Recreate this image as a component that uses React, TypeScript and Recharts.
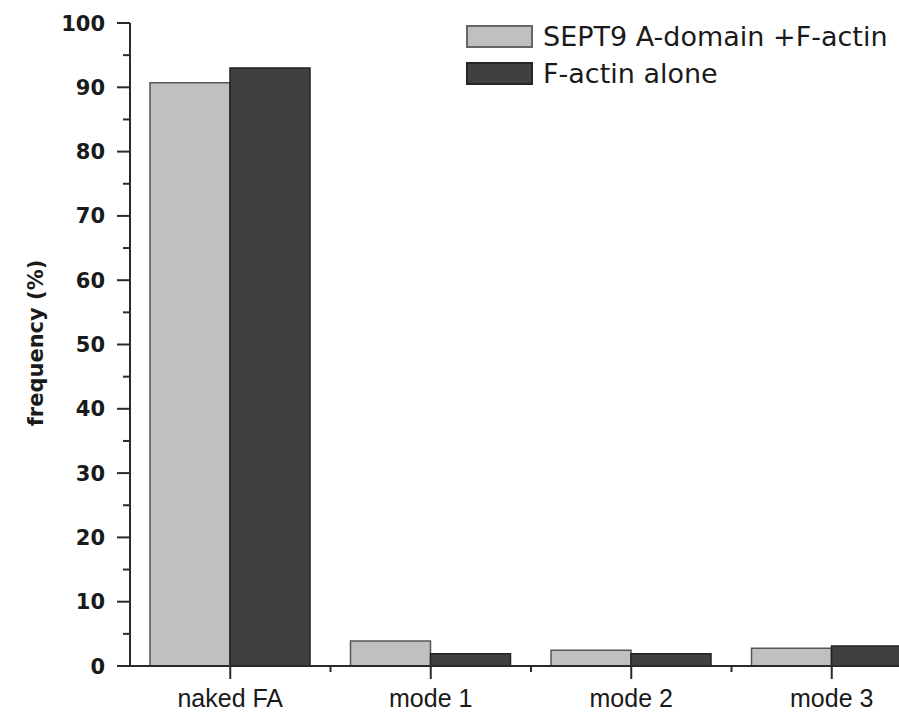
import React from 'react';
import { BarChart, Bar, XAxis, YAxis } from 'recharts';

const categories = ['naked FA', 'mode 1', 'mode 2', 'mode 3'];
const septinValues = [90.7, 3.9, 2.45, 2.75];
const actinValues = [93.0, 1.9, 1.9, 3.1];
const yTicks = [0, 5, 10, 15, 20, 25, 30, 35, 40, 45, 50, 55, 60, 65, 70, 75, 80, 85, 90, 95, 100];
const seriesNames = ['SEPT9 A-domain +F-actin', 'F-actin alone'];

const data = categories.map((c, i) => ({ name: c, septin: septinValues[i], actin: actinValues[i] }));

const SANS = '"Liberation Sans", Arial, sans-serif';
const DEJAVU = '"DejaVu Sans", sans-serif';
const PLOT_LEFT = 130;
const PLOT_W = 802;
const BAND = PLOT_W / categories.length;
const LIGHT = '#c0c0c0';
const DARK = '#404040';
const AXIS = '#2a2a2a';

const YTick = (props: any) => {
  const { x, y, payload } = props;
  const v = payload.value;
  const major = v % 10 === 0;
  return (
    <g>
      <line x1={x - (major ? 13 : 7)} x2={x} y1={y} y2={y} stroke={AXIS} strokeWidth={2} />
      {major && (
        <text x={x - 25} y={y + 7.5} textAnchor="end" fontFamily={DEJAVU} fontWeight="bold" fontSize={21} fill="#1a1a1a">
          {v}
        </text>
      )}
    </g>
  );
};

const XTick = (props: any) => {
  const { x, y, payload } = props;
  return (
    <g>
      <line x1={x} x2={x} y1={y} y2={y + 13} stroke={AXIS} strokeWidth={2} />
      <line x1={x + BAND / 2} x2={x + BAND / 2} y1={y} y2={y + 6} stroke={AXIS} strokeWidth={2} />
      <text x={x} y={y + 41} textAnchor="middle" fontFamily={SANS} fontSize={25} fill="#1a1a1a">
        {payload.value}
      </text>
    </g>
  );
};

const LegendBox = () => (
  <div style={{ position: 'absolute', top: 25, left: 466, fontFamily: DEJAVU, fontSize: 27, color: '#1a1a1a' }}>
    {seriesNames.map((n, i) => (
      <div key={n} style={{ display: 'flex', alignItems: 'center', height: 23, marginBottom: 14 }}>
        <div
          style={{
            boxSizing: 'border-box',
            width: 67,
            height: 23,
            background: i === 0 ? LIGHT : DARK,
            border: `2px solid ${i === 0 ? '#666' : '#262626'}`,
            marginRight: 10,
            flex: 'none',
          }}
        />
        <span style={{ whiteSpace: 'nowrap', lineHeight: '23px' }}>{n}</span>
      </div>
    ))}
  </div>
);

export default function App() {
  return (
    <div style={{ width: 899, height: 713, overflow: 'hidden', background: '#fff', position: 'relative' }}>
      <style>{`html,body{margin:0;padding:0;overflow:hidden;}`}</style>
      <BarChart
        width={PLOT_LEFT + PLOT_W}
        height={713}
        data={data}
        margin={{ top: 23, right: 0, bottom: 0, left: 60 }}
        barGap={0}
        barCategoryGap={20}
      >
        <XAxis
          dataKey="name"
          height={47}
          tickLine={false}
          tickSize={0}
          tickMargin={0}
          interval={0}
          tick={<XTick />}
          axisLine={{ stroke: AXIS, strokeWidth: 2 }}
        />
        <YAxis
          width={70}
          domain={[0, 100]}
          ticks={yTicks}
          interval={0}
          tickLine={false}
          tickSize={0}
          tickMargin={0}
          tick={<YTick />}
          axisLine={{ stroke: AXIS, strokeWidth: 2 }}
          label={{
            content: () => (
              <text
                x={43}
                y={343}
                transform="rotate(-90, 43, 343)"
                textAnchor="middle"
                fontFamily={DEJAVU}
                fontWeight="bold"
                fontSize={21}
                fill="#1a1a1a"
              >
                frequency (%)
              </text>
            ),
          }}
        />
        <Bar dataKey="septin" name={seriesNames[0]} fill={LIGHT} stroke="#555" strokeWidth={1.5} isAnimationActive={false} />
        <Bar dataKey="actin" name={seriesNames[1]} fill={DARK} stroke="#222" strokeWidth={1.5} isAnimationActive={false} />
      </BarChart>
      <LegendBox />
    </div>
  );
}
